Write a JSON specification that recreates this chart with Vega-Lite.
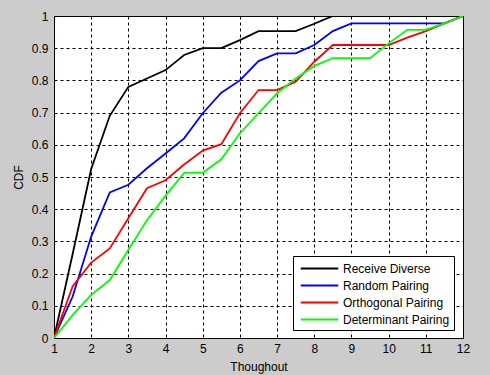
{
  "$schema": "https://vega.github.io/schema/vega-lite/v6.json",
  "autosize": {"type": "none"},
  "width": 409,
  "height": 322,
  "padding": {"left": 54, "top": 16, "right": 27, "bottom": 37},
  "background": "#cccccc",
  "config": {
    "font": "Liberation Sans",
    "view": {"fill": "white", "stroke": "black", "strokeWidth": 1},
    "axis": {
      "labelFont": "Liberation Sans", "titleFont": "Liberation Sans",
      "labelFontSize": 12, "titleFontSize": 12, "labelColor": "black", "titleColor": "black",
      "titleFontWeight": "normal", "grid": true, "gridColor": "black", "gridOpacity": 1,
      "gridDash": [3, 3], "gridWidth": 1, "domain": false, "ticks": false
    }
  },
  "data": {"values": [
    {"x": 1, "y": 0, "s": "Receive Diverse"},
    {"x": 1.5, "y": 0.26, "s": "Receive Diverse"},
    {"x": 2, "y": 0.525, "s": "Receive Diverse"},
    {"x": 2.5, "y": 0.69, "s": "Receive Diverse"},
    {"x": 3, "y": 0.78, "s": "Receive Diverse"},
    {"x": 3.5, "y": 0.806, "s": "Receive Diverse"},
    {"x": 4, "y": 0.832, "s": "Receive Diverse"},
    {"x": 4.5, "y": 0.879, "s": "Receive Diverse"},
    {"x": 5, "y": 0.90, "s": "Receive Diverse"},
    {"x": 5.5, "y": 0.90, "s": "Receive Diverse"},
    {"x": 6, "y": 0.925, "s": "Receive Diverse"},
    {"x": 6.5, "y": 0.953, "s": "Receive Diverse"},
    {"x": 7, "y": 0.953, "s": "Receive Diverse"},
    {"x": 7.5, "y": 0.953, "s": "Receive Diverse"},
    {"x": 8, "y": 0.976, "s": "Receive Diverse"},
    {"x": 8.5, "y": 1, "s": "Receive Diverse"},
    {"x": 12, "y": 1, "s": "Receive Diverse"},
    {"x": 1, "y": 0, "s": "Random Pairing"},
    {"x": 1.5, "y": 0.128, "s": "Random Pairing"},
    {"x": 2, "y": 0.315, "s": "Random Pairing"},
    {"x": 2.5, "y": 0.452, "s": "Random Pairing"},
    {"x": 3, "y": 0.476, "s": "Random Pairing"},
    {"x": 3.5, "y": 0.527, "s": "Random Pairing"},
    {"x": 4, "y": 0.573, "s": "Random Pairing"},
    {"x": 4.5, "y": 0.62, "s": "Random Pairing"},
    {"x": 5, "y": 0.698, "s": "Random Pairing"},
    {"x": 5.5, "y": 0.762, "s": "Random Pairing"},
    {"x": 6, "y": 0.80, "s": "Random Pairing"},
    {"x": 6.5, "y": 0.86, "s": "Random Pairing"},
    {"x": 7, "y": 0.884, "s": "Random Pairing"},
    {"x": 7.5, "y": 0.884, "s": "Random Pairing"},
    {"x": 8, "y": 0.91, "s": "Random Pairing"},
    {"x": 8.5, "y": 0.953, "s": "Random Pairing"},
    {"x": 9, "y": 0.977, "s": "Random Pairing"},
    {"x": 9.5, "y": 0.977, "s": "Random Pairing"},
    {"x": 10, "y": 0.977, "s": "Random Pairing"},
    {"x": 10.5, "y": 0.977, "s": "Random Pairing"},
    {"x": 11, "y": 0.977, "s": "Random Pairing"},
    {"x": 11.5, "y": 0.977, "s": "Random Pairing"},
    {"x": 12, "y": 1, "s": "Random Pairing"},
    {"x": 1, "y": 0, "s": "Orthogonal Pairing"},
    {"x": 1.5, "y": 0.16, "s": "Orthogonal Pairing"},
    {"x": 2, "y": 0.234, "s": "Orthogonal Pairing"},
    {"x": 2.5, "y": 0.278, "s": "Orthogonal Pairing"},
    {"x": 3, "y": 0.372, "s": "Orthogonal Pairing"},
    {"x": 3.5, "y": 0.465, "s": "Orthogonal Pairing"},
    {"x": 4, "y": 0.49, "s": "Orthogonal Pairing"},
    {"x": 4.5, "y": 0.539, "s": "Orthogonal Pairing"},
    {"x": 5, "y": 0.582, "s": "Orthogonal Pairing"},
    {"x": 5.5, "y": 0.602, "s": "Orthogonal Pairing"},
    {"x": 6, "y": 0.698, "s": "Orthogonal Pairing"},
    {"x": 6.5, "y": 0.77, "s": "Orthogonal Pairing"},
    {"x": 7, "y": 0.77, "s": "Orthogonal Pairing"},
    {"x": 7.5, "y": 0.796, "s": "Orthogonal Pairing"},
    {"x": 8, "y": 0.858, "s": "Orthogonal Pairing"},
    {"x": 8.5, "y": 0.91, "s": "Orthogonal Pairing"},
    {"x": 9, "y": 0.91, "s": "Orthogonal Pairing"},
    {"x": 9.5, "y": 0.91, "s": "Orthogonal Pairing"},
    {"x": 10, "y": 0.91, "s": "Orthogonal Pairing"},
    {"x": 10.5, "y": 0.933, "s": "Orthogonal Pairing"},
    {"x": 11, "y": 0.953, "s": "Orthogonal Pairing"},
    {"x": 11.5, "y": 0.977, "s": "Orthogonal Pairing"},
    {"x": 12, "y": 1, "s": "Orthogonal Pairing"},
    {"x": 1, "y": 0, "s": "Determinant Pairing"},
    {"x": 1.5, "y": 0.071, "s": "Determinant Pairing"},
    {"x": 2, "y": 0.134, "s": "Determinant Pairing"},
    {"x": 2.5, "y": 0.18, "s": "Determinant Pairing"},
    {"x": 3, "y": 0.273, "s": "Determinant Pairing"},
    {"x": 3.5, "y": 0.366, "s": "Determinant Pairing"},
    {"x": 4, "y": 0.442, "s": "Determinant Pairing"},
    {"x": 4.5, "y": 0.513, "s": "Determinant Pairing"},
    {"x": 5, "y": 0.513, "s": "Determinant Pairing"},
    {"x": 5.5, "y": 0.555, "s": "Determinant Pairing"},
    {"x": 6, "y": 0.636, "s": "Determinant Pairing"},
    {"x": 6.5, "y": 0.698, "s": "Determinant Pairing"},
    {"x": 7, "y": 0.76, "s": "Determinant Pairing"},
    {"x": 7.5, "y": 0.806, "s": "Determinant Pairing"},
    {"x": 8, "y": 0.845, "s": "Determinant Pairing"},
    {"x": 8.5, "y": 0.869, "s": "Determinant Pairing"},
    {"x": 9, "y": 0.869, "s": "Determinant Pairing"},
    {"x": 9.5, "y": 0.869, "s": "Determinant Pairing"},
    {"x": 10, "y": 0.915, "s": "Determinant Pairing"},
    {"x": 10.5, "y": 0.957, "s": "Determinant Pairing"},
    {"x": 11, "y": 0.957, "s": "Determinant Pairing"},
    {"x": 11.5, "y": 0.977, "s": "Determinant Pairing"},
    {"x": 12, "y": 1, "s": "Determinant Pairing"}
  ]},
  "mark": {"type": "line", "strokeWidth": 1.8, "clip": true},
  "encoding": {
    "x": {"field": "x", "type": "quantitative", "title": "Thoughout",
      "scale": {"domain": [1, 12], "nice": false, "zero": false},
      "axis": {"values": [1,2,3,4,5,6,7,8,9,10,11,12], "labelPadding": 5, "titlePadding": 7, "labelFlush": false}},
    "y": {"field": "y", "type": "quantitative", "title": "CDF",
      "scale": {"domain": [0, 1], "nice": false},
      "axis": {"values": [0,0.1,0.2,0.3,0.4,0.5,0.6,0.7,0.8,0.9,1], "labelPadding": 6, "titlePadding": 6, "labelFlush": false,
        "labelExpr": "datum.value == 0 ? '0' : datum.value == 1 ? '1' : format(datum.value, '.1f')"}},
    "color": {"field": "s", "type": "nominal",
      "scale": {"domain": ["Receive Diverse", "Random Pairing", "Orthogonal Pairing", "Determinant Pairing"],
        "range": ["#000000", "#0000ff", "#ff0000", "#00ff00"]},
      "sort": ["Receive Diverse", "Random Pairing", "Orthogonal Pairing", "Determinant Pairing"],
      "legend": {"title": null, "orient": "none", "legendX": 239, "legendY": 240,
        "symbolType": "M-2.5,0H2.5", "symbolSize": 225, "symbolStrokeWidth": 1.8, "symbolOffset": 14,
        "labelFont": "Liberation Sans", "labelFontSize": 12, "labelColor": "black",
        "fillColor": "white", "strokeColor": "black", "padding": 4, "rowPadding": 2,
        "labelOffset": 15, "labelLimit": 300}
    }
  }
}
